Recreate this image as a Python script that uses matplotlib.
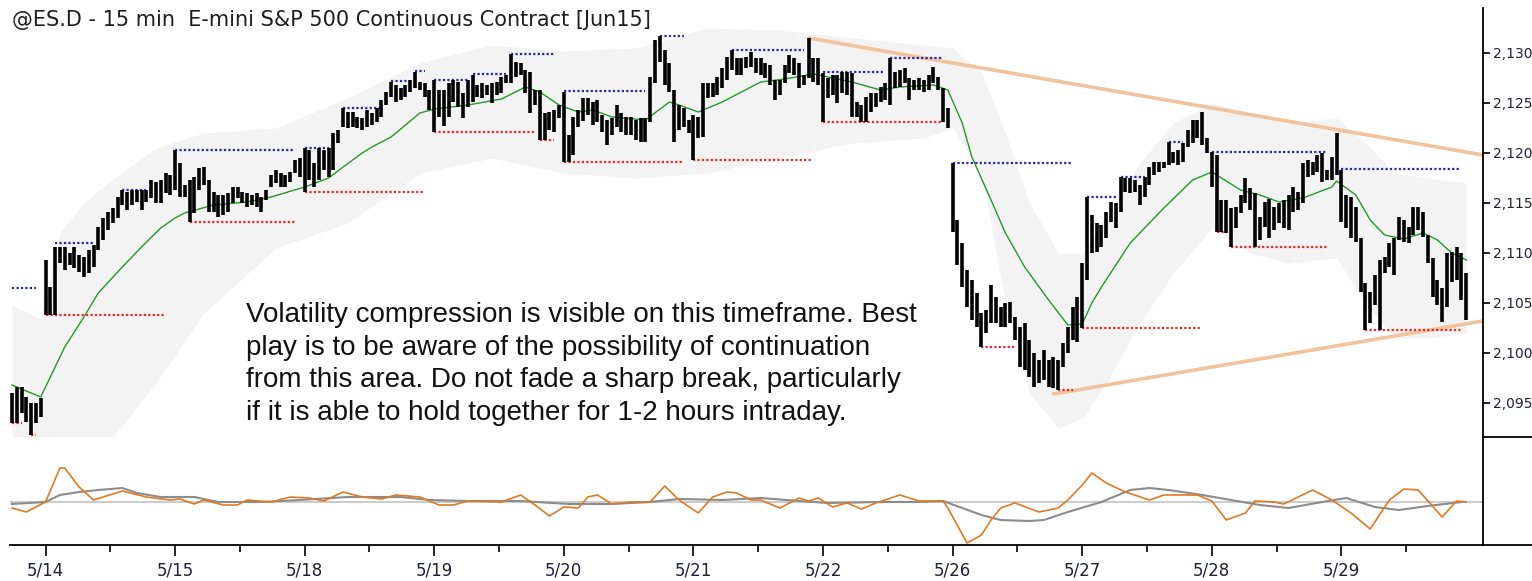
import matplotlib
matplotlib.use('Agg')
import matplotlib.pyplot as plt
from matplotlib.lines import Line2D
from matplotlib.ticker import FuncFormatter

# 15 min bars, one row per session (5/13 tail, then 27 bars per day)
highs = [
    2096.0, 2096.6, 2096.6, 2095.6, 2095.0, 2095.0, 2095.5,
    2109.3, 2106.6, 2110.6, 2110.6, 2110.6, 2110.0, 2110.6, 2109.8, 2109.6, 2110.3, 2110.8, 2112.6, 2113.5, 2114.1, 2114.5, 2115.6, 2116.3, 2116.1, 2116.3, 2116.3, 2116.3, 2116.3, 2117.3, 2117.1, 2117.3, 2118.0, 2117.8,
    2120.3, 2119.0, 2116.8, 2117.3, 2117.6, 2118.5, 2118.6, 2117.3, 2116.1, 2115.8, 2115.8, 2116.0, 2116.6, 2116.6, 2116.1, 2116.0, 2115.8, 2116.0, 2115.6, 2116.3, 2117.8, 2118.3, 2118.0, 2117.8, 2118.1, 2119.3, 2119.5,
    2120.5, 2120.3, 2119.0, 2120.5, 2120.3, 2120.5, 2122.0, 2122.3, 2124.5, 2124.1, 2124.1, 2123.6, 2123.5, 2124.3, 2124.0, 2124.5, 2125.3, 2126.1, 2127.1, 2126.8, 2126.5, 2126.8, 2127.3, 2128.1, 2127.1, 2127.0, 2126.3,
    2127.3, 2126.3, 2126.3, 2127.0, 2127.3, 2127.1, 2126.0, 2127.3, 2127.8, 2126.8, 2127.0, 2126.8, 2127.0, 2127.1, 2127.6, 2127.8, 2129.9, 2129.1, 2129.0, 2128.3, 2128.1, 2126.3, 2126.3, 2124.0, 2124.1, 2124.3, 2124.8,
    2126.1, 2121.8, 2123.6, 2124.3, 2125.5, 2125.5, 2125.1, 2125.3, 2123.8, 2123.3, 2123.5, 2124.8, 2124.0, 2123.6, 2123.6, 2123.3, 2123.5, 2123.5, 2127.6, 2131.3, 2131.7, 2130.3, 2129.0, 2126.3, 2124.8, 2124.5, 2123.3,
    2123.8, 2123.6, 2127.0, 2127.0, 2127.0, 2127.6, 2128.5, 2129.6, 2130.3, 2129.5, 2129.5, 2129.6, 2130.1, 2129.5, 2129.5, 2129.0, 2128.8, 2127.3, 2127.3, 2128.8, 2129.8, 2129.5, 2129.0, 2127.8, 2131.5, 2129.5, 2129.5,
    2128.0, 2127.5, 2127.8, 2127.8, 2128.1, 2128.1, 2128.0, 2125.1, 2124.8, 2125.6, 2126.0, 2126.0, 2126.6, 2127.0, 2129.5, 2128.1, 2128.3, 2128.5, 2127.5, 2127.3, 2127.5, 2127.3, 2127.8, 2128.6, 2127.6, 2126.5, 2124.5,
    2119.0, 2113.3, 2111.0, 2108.3, 2107.3, 2106.0, 2104.0, 2104.3, 2106.8, 2105.6, 2104.6, 2105.0, 2105.1, 2103.6, 2102.6, 2103.0, 2101.3, 2100.0, 2099.3, 2100.3, 2099.3, 2099.6, 2099.3, 2101.0, 2102.6, 2104.6, 2105.6,
    2109.0, 2115.6, 2113.8, 2113.0, 2112.8, 2114.1, 2115.1, 2115.0, 2117.6, 2117.5, 2117.5, 2117.3, 2116.8, 2117.6, 2118.6, 2119.1, 2119.1, 2119.1, 2121.1, 2120.1, 2120.3, 2121.0, 2122.3, 2123.3, 2123.3, 2124.1, 2121.5,
    2120.1, 2119.8, 2115.3, 2115.3, 2114.5, 2114.6, 2115.8, 2117.5, 2116.5, 2116.0, 2113.6, 2115.1, 2115.4, 2114.6, 2115.0, 2115.3, 2115.8, 2116.6, 2116.1, 2119.0, 2119.3, 2119.1, 2119.8, 2120.0, 2118.3, 2119.6, 2122.0,
    2118.3, 2115.8, 2115.6, 2114.6, 2111.5, 2107.0, 2106.1, 2107.8, 2109.3, 2109.6, 2111.0, 2111.5, 2113.6, 2113.3, 2112.6, 2114.6, 2114.6, 2114.1, 2111.8, 2109.5, 2107.3, 2106.5, 2110.0, 2110.1, 2110.6, 2110.0, 2108.0,
]
lows = [
    2093.0, 2093.0, 2094.0, 2093.1, 2091.8, 2093.0, 2093.6,
    2103.8, 2103.8, 2103.8, 2109.0, 2108.3, 2108.8, 2108.5, 2108.1, 2107.6, 2108.0, 2108.6, 2110.3, 2111.3, 2112.3, 2113.0, 2113.5, 2114.8, 2114.3, 2114.8, 2115.1, 2114.3, 2115.1, 2115.5, 2115.0, 2115.0, 2116.0, 2115.8,
    2116.3, 2115.6, 2115.6, 2113.1, 2114.0, 2116.3, 2116.8, 2114.1, 2114.1, 2113.6, 2113.8, 2114.1, 2115.0, 2115.5, 2115.0, 2114.6, 2114.8, 2114.6, 2114.1, 2115.3, 2116.6, 2117.0, 2116.6, 2116.6, 2117.1, 2118.0, 2117.6,
    2116.1, 2117.3, 2116.6, 2117.3, 2118.3, 2117.6, 2118.3, 2121.0, 2122.6, 2122.5, 2122.6, 2122.5, 2122.3, 2122.6, 2122.8, 2123.1, 2123.6, 2124.8, 2125.6, 2125.1, 2125.3, 2125.6, 2126.1, 2126.5, 2126.3, 2125.6, 2124.3,
    2122.1, 2123.6, 2122.7, 2123.6, 2125.1, 2124.6, 2123.5, 2124.6, 2125.1, 2125.6, 2125.5, 2125.8, 2125.0, 2125.8, 2126.0, 2127.0, 2127.0, 2127.6, 2127.8, 2126.0, 2124.0, 2124.8, 2121.3, 2121.3, 2122.3, 2122.1, 2123.5,
    2119.1, 2119.1, 2119.8, 2122.6, 2123.2, 2123.8, 2122.8, 2123.1, 2122.1, 2120.8, 2121.8, 2122.6, 2122.1, 2121.8, 2121.8, 2121.3, 2121.1, 2121.1, 2123.1, 2127.0, 2129.1, 2126.8, 2126.1, 2121.1, 2122.3, 2122.6, 2122.0,
    2119.3, 2121.5, 2121.6, 2125.5, 2125.6, 2125.8, 2126.5, 2127.3, 2128.3, 2127.8, 2127.8, 2128.5, 2128.6, 2128.0, 2127.8, 2127.5, 2126.8, 2125.3, 2125.8, 2127.0, 2128.0, 2127.8, 2126.5, 2126.8, 2127.5, 2127.1, 2126.8,
    2123.1, 2125.5, 2125.8, 2125.0, 2126.0, 2125.8, 2123.6, 2123.6, 2123.1, 2123.1, 2124.1, 2124.6, 2125.1, 2125.3, 2124.8, 2126.5, 2126.6, 2127.0, 2125.3, 2126.3, 2126.3, 2126.1, 2126.3, 2127.0, 2126.3, 2123.1, 2122.5,
    2112.1, 2108.8, 2106.6, 2104.6, 2103.3, 2102.6, 2100.6, 2102.0, 2103.0, 2103.0, 2102.6, 2102.6, 2103.0, 2101.3, 2098.6, 2098.3, 2097.6, 2096.6, 2097.0, 2097.3, 2096.6, 2096.5, 2096.3, 2098.6, 2100.0, 2101.3, 2101.1,
    2102.5, 2107.3, 2110.0, 2110.1, 2110.6, 2111.5, 2113.1, 2112.5, 2114.1, 2116.1, 2116.0, 2116.1, 2114.8, 2115.6, 2116.8, 2117.8, 2118.1, 2118.5, 2118.8, 2119.0, 2118.8, 2119.1, 2120.6, 2121.0, 2121.5, 2120.8, 2120.0,
    2116.6, 2112.1, 2112.1, 2112.0, 2110.6, 2112.5, 2114.0, 2115.0, 2114.3, 2110.6, 2111.3, 2112.6, 2111.5, 2112.3, 2113.0, 2112.5, 2112.3, 2114.1, 2114.3, 2115.0, 2117.6, 2117.8, 2118.1, 2117.1, 2117.3, 2117.3, 2117.8,
    2113.1, 2112.5, 2111.5, 2111.1, 2106.1, 2102.3, 2103.0, 2104.8, 2102.3, 2108.0, 2108.6, 2107.8, 2111.3, 2111.1, 2111.0, 2111.8, 2112.3, 2111.6, 2109.0, 2105.6, 2104.8, 2103.1, 2104.6, 2107.1, 2107.3, 2105.3, 2103.3,
]

day_labels = ['5/14', '5/15', '5/18', '5/19', '5/20', '5/21', '5/22', '5/26', '5/27', '5/28', '5/29']
day_start = [7, 34, 61, 88, 115, 142, 169, 196, 223, 250, 277]

# green average, read at a few bars
ma_idx = [0, 6, 11, 15, 18, 23, 27, 31, 34, 36, 42, 49, 54, 61, 66, 69, 73, 75, 79, 85,
          88, 95, 102, 107, 110, 114, 118, 121, 125, 132, 137, 139, 143, 148, 156, 161, 167, 170, 175, 181,
          185, 192, 195, 198, 200, 204, 207, 211, 216, 220, 223, 225, 227, 233, 240, 246, 250, 252, 256, 260,
          264, 269, 275, 276, 280, 283, 286, 290, 294, 297, 300, 303]
ma_val = [2096.8, 2095.6, 2100.6, 2103.6, 2106.0, 2108.6, 2110.6, 2112.5, 2113.5, 2114.0,
          2114.8, 2115.1, 2115.6, 2116.6, 2117.5, 2118.6, 2120.0, 2120.6, 2121.6, 2124.0,
          2124.4, 2124.8, 2125.4, 2126.6, 2126.1, 2124.8, 2124.1, 2124.3, 2123.6, 2123.3,
          2125.1, 2124.8, 2124.1, 2125.1, 2127.1, 2127.4, 2127.9, 2127.6, 2127.1, 2126.3,
          2126.6, 2126.8, 2126.3, 2123.0, 2119.6, 2115.3, 2112.0, 2108.6, 2105.3, 2102.8,
          2102.9, 2105.0, 2106.6, 2111.0, 2114.5, 2117.3, 2118.1, 2117.5, 2116.3, 2115.8,
          2115.1, 2115.5, 2116.6, 2117.2, 2115.8, 2113.3, 2111.8, 2111.4, 2112.0, 2111.3,
          2110.0, 2109.3]

# grey volatility envelope
band_idx = [0, 6, 10, 15, 20, 30, 40, 55, 70, 85, 100, 115, 130, 145, 160, 175, 190, 196, 202, 207,
            212, 218, 223, 228, 235, 242, 250, 258, 266, 276, 282, 288, 295, 303]
band_up = [2104.8, 2103.4, 2112.0, 2115.0, 2117.0, 2120.5, 2122.0, 2122.5, 2125.5, 2129.0,
           2130.8, 2130.2, 2130.5, 2132.5, 2132.3, 2131.5, 2130.8, 2130.5, 2128.0, 2122.0,
           2115.0, 2110.0, 2110.0, 2113.5, 2119.0, 2123.0, 2125.0, 2124.0, 2123.0, 2123.5,
           2121.0, 2118.0, 2117.5, 2117.0]
band_lo = [2091.0, 2091.5, 2088.0, 2089.0, 2091.0, 2097.0, 2104.0, 2110.5, 2113.0, 2118.0,
           2119.5, 2118.0, 2117.5, 2118.0, 2119.5, 2121.0, 2121.5, 2122.5, 2118.0, 2105.0,
           2096.0, 2092.5, 2093.5, 2097.0, 2103.0, 2108.0, 2112.5, 2110.0, 2109.0, 2109.5,
           2105.0, 2101.5, 2101.5, 2102.0]

# swing high (blue) and swing low (red) extensions: start bar, end bar, price
res_start = [0, 9, 23, 34, 61, 69, 79, 84, 88, 96, 104, 115, 135, 150, 169, 183, 196, 224, 231, 241, 250, 277]
res_end = [5, 17, 28, 59, 66, 77, 83, 86, 95, 103, 113, 132, 140, 165, 182, 194, 221, 230, 236, 244, 274, 302]
res_price = [2106.5, 2111.0, 2116.3, 2120.3, 2120.5, 2124.5, 2127.2, 2128.2, 2127.3, 2127.9, 2129.9,
             2126.2, 2131.7, 2130.3, 2128.1, 2129.5, 2119.0, 2115.6, 2117.6, 2121.1, 2120.1, 2118.4]
sup_start = [0, 4, 7, 37, 61, 88, 110, 115, 142, 169, 202, 218, 223, 251, 254, 282]
sup_end = [2, 5, 32, 59, 86, 109, 113, 140, 167, 194, 209, 221, 248, 253, 274, 302]
sup_price = [2093.0, 2091.8, 2103.8, 2113.1, 2116.1, 2122.1, 2121.3, 2119.1, 2119.3, 2123.1,
             2100.6, 2096.3, 2102.5, 2112.1, 2110.6, 2102.3]

# converging trendlines (bar, price)
upper_trend_x = [166, 306.5]
upper_trend_y = [2131.5, 2119.8]
lower_trend_x = [217, 306.5]
lower_trend_y = [2095.9, 2103.2]

# lower pane oscillator
osc_idx = [0, 3, 7, 10, 11, 14, 17, 23, 28, 33, 35, 38, 40, 44, 47, 49, 54, 58, 62, 65,
           69, 73, 77, 80, 85, 89, 92, 95, 102, 106, 109, 112, 115, 118, 120, 122, 125, 129, 133, 136,
           139, 143, 146, 149, 151, 154, 156, 160, 164, 166, 168, 171, 174, 177, 180, 185, 189, 194, 195, 199,
           202, 204, 206, 209, 214, 218, 220, 223, 225, 228, 232, 237, 240, 247, 250, 253, 257, 259, 263, 265,
           271, 275, 279, 283, 287, 290, 293, 298, 301, 303]
osc_val = [-6, -10, 0, 34, 34, 15, 2, 11, 5, 2, 3, -2, 2, -3, -3, 2, 0, 5, 4, 1,
           10, 5, 3, 7, 5, -3, -3, 1, 0, 7, -3, -14, -5, -6, 5, 7, -2, 0, 0, 16,
           2, -11, 5, 10, 9, 2, 2, -6, 4, 1, 4, -5, -1, -7, -1, 7, 1, 1, -6, -41,
           -33, -18, -6, -1, -10, -6, 2, 17, 29, 19, 10, 2, 7, 7, 1, -18, -11, 1, 0, -2,
           12, 2, -11, -27, 2, 13, 12, -15, 1, 0]
sig_idx = [0, 7, 10, 14, 18, 23, 26, 31, 38, 43, 52, 60, 70, 81, 87, 95, 106, 116, 125, 133,
           139, 148, 156, 164, 170, 181, 189, 194, 202, 206, 212, 215, 220, 227, 233, 237, 241, 248, 254, 260,
           266, 273, 278, 284, 289, 295, 302]
sig_val = [-2, 0, 7, 10, 12, 14, 9, 5, 5, 0, 0, 2, 5, 5, 2, 1, 1, -2, -2, 0,
           3, 2, 4, 1, -1, 0, 0, 1, -13, -18, -19, -18, -10, 0, 12, 14, 12, 7, 2, -3,
           -6, 0, 4, -5, -8, -4, 0]

note = ("Volatility compression is visible on this timeframe. Best\n"
        "play is to be aware of the possibility of continuation\n"
        "from this area. Do not fade a sharp break, particularly\n"
        "if it is able to hold together for 1-2 hours intraday.")

W, H = 1532, 581
fig = plt.figure(figsize=(W / 100, H / 100), dpi=100)
ax = fig.add_axes([10 / W, 1 - 437 / H, 1473 / W, 429 / H])
ax2 = fig.add_axes([10 / W, 1 - 545 / H, 1473 / W, 108 / H], sharex=ax)

bars_x = list(range(len(highs)))

# price pane
ax.fill_between(band_idx, band_lo, band_up, color='#f3f3f3', lw=0, zorder=0)
ax.plot(upper_trend_x, upper_trend_y, color='#f0c39c', lw=2.6, solid_capstyle='round', zorder=1)
ax.plot(lower_trend_x, lower_trend_y, color='#f0c39c', lw=2.6, solid_capstyle='round', zorder=1)
for s, e, p in zip(res_start, res_end, res_price):
    ax.plot([s, e], [p, p], color='#2626a6', lw=1.6, ls=(0, (1, 1.0)), zorder=2)
for s, e, p in zip(sup_start, sup_end, sup_price):
    ax.plot([s, e], [p, p], color='#e42a2a', lw=1.6, ls=(0, (1, 1.0)), zorder=2)
ax.plot(ma_idx, ma_val, color='#22992a', lw=1.0, zorder=3)
ax.vlines(bars_x, lows, highs, color='black', lw=2.6, zorder=4)

ax.set_xlim(-0.4, 306.5)
ax.set_ylim(2091.6, 2134.5)
for side in ['top', 'left', 'bottom']:
    ax.spines[side].set_visible(False)
ax.spines['right'].set_linewidth(1.3)
ax.yaxis.tick_right()
ax.set_yticks([2095, 2100, 2105, 2110, 2115, 2120, 2125, 2130])
ax.yaxis.set_major_formatter(FuncFormatter(lambda v, p: f'{v:,.0f}'))
ax.tick_params(axis='y', direction='out', length=5, width=1.2, pad=2,
               labelsize=10, labelcolor='#20203a')
ax.tick_params(axis='x', bottom=False, labelbottom=False)

fig.text(12 / W, 1 - 20 / H, '@ES.D - 15 min  E-mini S&P 500 Continuous Contract [Jun15]',
         fontsize=15, color='#1e1e1e', va='center', ha='left')
fig.text(246 / W, 1 - 302 / H, note, family='Liberation Sans', fontsize=20,
         color='#111111', va='top', ha='left', linespacing=1.33)

# oscillator pane
ax2.axhline(0, color='#cccccc', lw=1.5, zorder=1)
ax2.plot(sig_idx, sig_val, color='#8c8c8c', lw=1.5, zorder=2)
ax2.plot(osc_idx, osc_val, color='#e07a22', lw=1.2, zorder=3)
ax2.set_ylim(-43, 65)
for side in ['top', 'left']:
    ax2.spines[side].set_visible(False)
ax2.spines['right'].set_linewidth(1.3)
ax2.spines['bottom'].set_linewidth(1.3)
ax2.set_yticks([])
ax2.set_xticks(day_start)
ax2.set_xticklabels(day_labels)
ax2.set_xticks([d + 13.5 for d in day_start], minor=True)
ax2.tick_params(axis='x', which='major', direction='out', length=8, width=1.2,
                labelsize=12, labelcolor='#20203a', pad=4)
ax2.tick_params(axis='x', which='minor', direction='out', length=5, width=1.2)

# axis frame pieces beyond the plot area
fig.add_artist(Line2D([1483 / W, 1], [1 - 437 / H] * 2, transform=fig.transFigure, color='black', lw=1.3))
fig.add_artist(Line2D([1483 / W, 1], [1 - 545 / H] * 2, transform=fig.transFigure, color='black', lw=1.3))

fig.savefig('out.png', dpi=100, facecolor='white')
